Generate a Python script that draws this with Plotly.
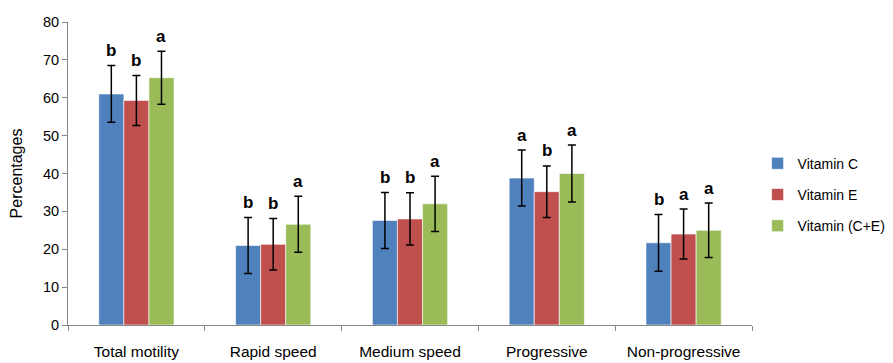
import plotly.graph_objects as go

categories = ["Total motility", "Rapid speed", "Medium speed", "Progressive", "Non-progressive"]
series_names = ["Vitamin C", "Vitamin E", "Vitamin (C+E)"]
vit_c = [61.0, 21.0, 27.6, 38.8, 21.7]
vit_e = [59.3, 21.3, 28.0, 35.2, 24.0]
vit_ce = [65.3, 26.6, 32.0, 40.0, 25.0]
err_c = [7.5, 7.4, 7.4, 7.4, 7.5]
err_e = [6.6, 6.8, 6.9, 6.8, 6.6]
err_ce = [7.0, 7.4, 7.3, 7.5, 7.2]
letters_c = ["b", "b", "b", "a", "b"]
letters_e = ["b", "b", "b", "b", "a"]
letters_ce = ["a", "a", "a", "a", "a"]
colors = ["#4F81BD", "#C0504D", "#9BBB59"]
y_ticks = [0, 10, 20, 30, 40, 50, 60, 70, 80]

vals = [vit_c, vit_e, vit_ce]
errs = [err_c, err_e, err_ce]
lets = [letters_c, letters_e, letters_ce]

FONT = "Liberation Sans"
fig = go.Figure()
for i in range(3):
    fig.add_trace(go.Bar(
        x=categories, y=vals[i], name=series_names[i],
        marker=dict(color=colors[i], line=dict(color="white", width=0.6)),
        error_y=dict(type="data", array=errs[i], visible=True, color="black", thickness=1.5, width=4),
        legendgroup=str(i),
    ))

bar_px = 25
annotations = []
for i in range(3):
    for j, cat in enumerate(categories):
        annotations.append(dict(
            x=cat, y=vals[i][j] + errs[i][j], xref="x", yref="y",
            text="<b>" + lets[i][j] + "</b>", showarrow=False,
            xshift=(i - 1) * bar_px, yshift=15,
            font=dict(family=FONT, size=17, color="black"),
        ))

# page body has an 8px default margin; figure sized/offset to compensate
fig.update_layout(
    width=885, height=355,
    margin=dict(l=60, r=141, t=14, b=38),
    paper_bgcolor="white", plot_bgcolor="white",
    barmode="group", bargap=0.45, bargroupgap=0,
    font=dict(family=FONT, size=15, color="black"),
    legend=dict(xref="container", x=0.847, yref="paper", y=0.43,
                xanchor="left", yanchor="middle",
                font=dict(family=FONT, size=14), tracegroupgap=10,
                itemwidth=30),
    annotations=annotations,
    showlegend=True,
)
fig.update_xaxes(
    showline=True, linecolor="#868686", linewidth=1, automargin=False,
    ticks="outside", tickson="boundaries", ticklen=5, tickcolor="#868686",
    showgrid=False, tickfont=dict(family=FONT, size=15.5), ticklabelstandoff=12,
)
fig.update_yaxes(
    range=[0, 80], tickvals=y_ticks, showline=True, linecolor="#868686", linewidth=1,
    automargin=False,
    ticks="outside", ticklen=5, tickcolor="#868686", showgrid=False, zeroline=False,
    title=dict(text="Percentages", font=dict(family=FONT, size=16), standoff=16),
    tickfont=dict(family=FONT, size=14.5),
)
fig.write_html("out.html")
